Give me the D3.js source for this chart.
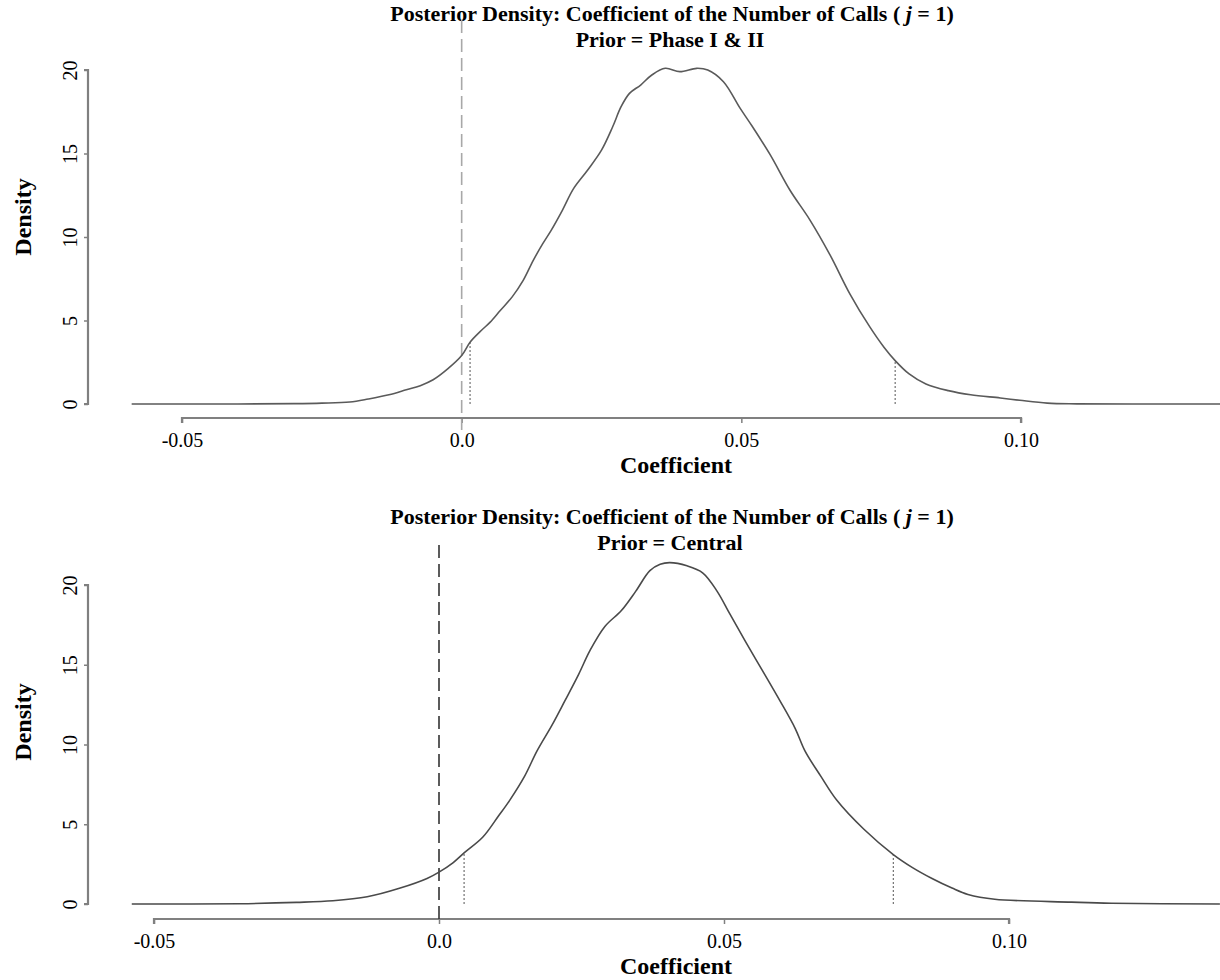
<!DOCTYPE html>
<html lang="en">
<head>
<meta charset="utf-8">
<title>Posterior Density</title>
<script src="https://d3js.org/d3.v7.min.js"></script>
<style type="text/css">
body { margin: 0; background: #fff; }
svg text { font-family: "Liberation Serif", "Times New Roman", serif; fill: #000; }
.title, .axis-title { font-weight: bold; }
</style>
</head>
<body>
<script type="text/javascript">

// posterior density: [coefficient, density]
var densityPhase12 = [
  [-0.059, 0], [-0.04, 0], [-0.03, 0.02], [-0.025, 0.05], [-0.02, 0.12], [-0.0167, 0.3],
  [-0.0130, 0.55], [-0.0099, 0.85], [-0.0074, 1.1], [-0.0051, 1.45], [-0.0025, 2.1], [0, 2.9],
  [0.0015, 3.7], [0.0035, 4.4], [0.0051, 4.9], [0.0069, 5.6], [0.009, 6.4], [0.011, 7.4],
  [0.0128, 8.6], [0.0145, 9.6], [0.016, 10.4], [0.018, 11.6], [0.020, 12.9], [0.0225, 14.0],
  [0.025, 15.2], [0.027, 16.6], [0.0285, 17.8], [0.030, 18.6], [0.032, 19.1], [0.034, 19.7],
  [0.0364, 20.1], [0.039, 19.9], [0.042, 20.1], [0.044, 20.0], [0.0468, 19.3], [0.0498, 17.7],
  [0.052, 16.6], [0.0552, 14.9], [0.0587, 12.8], [0.0623, 11.0], [0.0659, 8.9], [0.0694, 6.6],
  [0.073, 4.6], [0.0755, 3.4], [0.0775, 2.6], [0.080, 1.8], [0.083, 1.2], [0.087, 0.8],
  [0.091, 0.55], [0.0963, 0.36], [0.0998, 0.22], [0.1047, 0.05], [0.110, 0.01], [0.12, 0],
  [0.1356, 0]
];
var densityCentral = [
  [-0.0539, 0], [-0.035, 0.02], [-0.025, 0.1], [-0.0186, 0.2], [-0.0126, 0.45], [-0.0068, 1.0],
  [-0.0021, 1.6], [0, 2.0], [0.0025, 2.6], [0.0044, 3.2], [0.0077, 4.2], [0.0104, 5.5],
  [0.0124, 6.5], [0.015, 8.0], [0.0172, 9.6], [0.0198, 11.2], [0.0221, 12.75], [0.0245, 14.4],
  [0.0265, 15.9], [0.0291, 17.4], [0.032, 18.4], [0.0345, 19.6], [0.037, 20.9], [0.0388, 21.3],
  [0.0405, 21.4], [0.0435, 21.2], [0.0463, 20.75], [0.0488, 19.6], [0.051, 18.2], [0.0537, 16.5],
  [0.0568, 14.6], [0.0598, 12.75], [0.0625, 11.0], [0.0642, 9.6], [0.067, 8.0], [0.0698, 6.5],
  [0.0745, 4.7], [0.0797, 3.1], [0.083, 2.3], [0.0865, 1.6], [0.090, 1.0], [0.0928, 0.6],
  [0.0975, 0.3], [0.111, 0.12], [0.118, 0.05], [0.137, 0]
];

// 95% interval limits (dotted lines)
var intervalPhase12 = [0.0015, 0.0775];
var intervalCentral = [0.0044, 0.0797];

var xTicks = [-0.05, 0.0, 0.05, 0.10];
var xTickLabels = ["-0.05", "0.0", "0.05", "0.10"];
var yTicks = [0, 5, 10, 15, 20];

var priorNames = ["Phase I & II", "Central"];

const width = 1220;
const height = 980;

var svg = d3.select("body")
  .append("svg")
  .attr("width", width)
  .attr("height", height);

var panels = [
  { data: densityPhase12, ci: intervalPhase12, prior: priorNames[0],
    xRange: [182, 1021], yRange: [404, 70], axisY: 418, top: 0,
    zeroLine: { y1: 20, y2: 430, color: "#a8a8a8" }, curveColor: "#5a5a5a", ylabY: 217 },
  { data: densityCentral, ci: intervalCentral, prior: priorNames[1],
    xRange: [154, 1009], yRange: [904, 585], axisY: 919, top: 503,
    zeroLine: { y1: 545, y2: 922, color: "#333" }, curveColor: "#4a4a4a", ylabY: 722 }
];

panels.forEach(function(p) {
  var x = d3.scaleLinear().domain([-0.05, 0.10]).range(p.xRange);
  var y = d3.scaleLinear().domain([0, 20]).range(p.yRange);
  var g = svg.append("g");

  // titles
  var t1 = g.append("text").attr("class", "title")
    .attr("x", 672).attr("y", p.top + 21)
    .attr("text-anchor", "middle").style("font-size", "22px");
  t1.append("tspan").text("Posterior Density: Coefficient of the Number of Calls ( ");
  t1.append("tspan").style("font-style", "italic").text("j");
  t1.append("tspan").text(" = 1)");
  g.append("text").attr("class", "title")
    .attr("x", 670).attr("y", p.top + 47)
    .attr("text-anchor", "middle").style("font-size", "22px")
    .text("Prior = " + p.prior);

  // x axis
  var xAxis = g.append("g")
    .attr("transform", "translate(0," + p.axisY + ")")
    .call(d3.axisBottom(x).tickValues(xTicks).tickSize(5).tickPadding(10)
      .tickFormat(function(d, i) { return xTickLabels[i]; }));
  xAxis.select(".domain").attr("d", "M" + p.xRange[0] + ",5V0H" + p.xRange[1] + "V5")
    .attr("stroke", "#808080").attr("stroke-width", 2.2);
  xAxis.selectAll(".tick line").attr("stroke", "#808080").attr("stroke-width", 1.5);
  xAxis.selectAll(".tick text").style("font-size", "20px")
    .style("font-family", "Liberation Serif, serif").attr("fill", "#000");

  // y axis
  var yAxis = g.append("g")
    .attr("transform", "translate(88,0)")
    .call(d3.axisLeft(y).tickValues(yTicks).tickSize(4).tickPadding(0));
  yAxis.select(".domain").attr("d", "M-4," + p.yRange[1] + "H0V" + p.yRange[0] + "H-4")
    .attr("stroke", "#808080").attr("stroke-width", 2.2);
  yAxis.selectAll(".tick line").attr("stroke", "#808080").attr("stroke-width", 1.5);
  yAxis.selectAll(".tick text")
    .attr("x", null).attr("dy", null)
    .attr("text-anchor", "middle")
    .attr("transform", "translate(-11,0) rotate(-90)")
    .style("font-size", "20px")
    .style("font-family", "Liberation Serif, serif").attr("fill", "#000");

  // axis titles
  g.append("text").attr("class", "axis-title")
    .attr("x", 676).attr("y", p.axisY + 55)
    .attr("text-anchor", "middle").style("font-size", "24px")
    .text("Coefficient");
  g.append("text").attr("class", "axis-title")
    .attr("transform", "translate(31," + p.ylabY + ") rotate(-90)")
    .attr("text-anchor", "middle").style("font-size", "24px")
    .text("Density");

  // vertical line at zero
  g.append("line")
    .attr("x1", x(0)).attr("x2", x(0))
    .attr("y1", p.zeroLine.y1).attr("y2", p.zeroLine.y2)
    .attr("stroke", p.zeroLine.color).attr("stroke-width", 1.6)
    .attr("stroke-dasharray", "13,6");

  // density curve
  var line = d3.line()
    .x(function(d) { return x(d[0]); })
    .y(function(d) { return y(d[1]); })
    .curve(d3.curveCatmullRom.alpha(0.5));
  g.append("path")
    .datum(p.data)
    .attr("d", line)
    .attr("fill", "none")
    .attr("stroke", p.curveColor)
    .attr("stroke-width", 1.6);

  // interval limits, from the baseline up to the curve
  var bis = d3.bisector(function(d) { return d[0]; }).left;
  p.ci.forEach(function(v) {
    var i = bis(p.data, v);
    var a = p.data[i - 1], b = p.data[i];
    var dv = a[1] + (b[1] - a[1]) * (v - a[0]) / (b[0] - a[0]);
    g.append("line")
      .attr("x1", x(v)).attr("x2", x(v))
      .attr("y1", y(0)).attr("y2", y(dv))
      .attr("stroke", "#555").attr("stroke-width", 1)
      .attr("stroke-dasharray", "2,2");
  });
});

</script>
</body>
</html>
